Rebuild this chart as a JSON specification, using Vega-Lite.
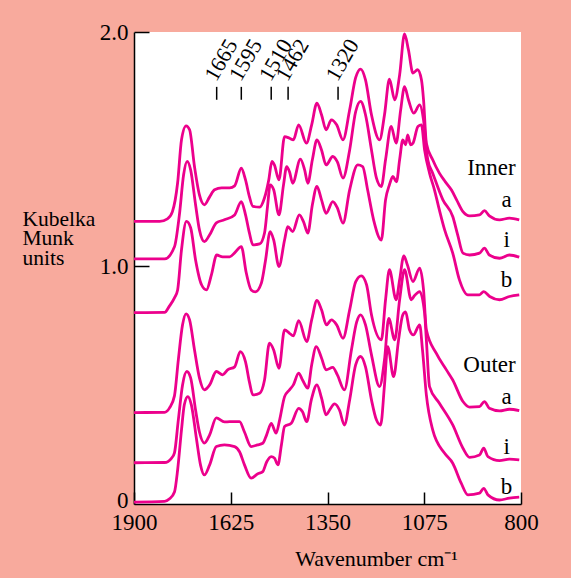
{
  "$schema": "https://vega.github.io/schema/vega-lite/v6.json",
  "autosize": "none",
  "width": 387,
  "height": 472,
  "padding": {"left": 134, "top": 32, "right": 50, "bottom": 74},
  "background": "#F8AA9D",
  "config": {
    "font": "Liberation Serif",
    "view": {"stroke": null, "fill": "white"}
  },
  "datasets": {
    "spectra": [
      {"s":"Ia","wn":1900,"ku":1.192},{"s":"Ia","wn":1827,"ku":1.192},{"s":"Ia","wn":1805,"ku":1.203},{"s":"Ia","wn":1791,"ku":1.233},{"s":"Ia","wn":1776,"ku":1.357},{"s":"Ia","wn":1765,"ku":1.540},{"s":"Ia","wn":1752,"ku":1.600},{"s":"Ia","wn":1742,"ku":1.583},{"s":"Ia","wn":1728,"ku":1.425},{"s":"Ia","wn":1714,"ku":1.305},{"s":"Ia","wn":1700,"ku":1.263},{"s":"Ia","wn":1685,"ku":1.297},{"s":"Ia","wn":1671,"ku":1.327},{"s":"Ia","wn":1651,"ku":1.335},{"s":"Ia","wn":1628,"ku":1.335},{"s":"Ia","wn":1614,"ku":1.344},{"s":"Ia","wn":1595,"ku":1.419},{"s":"Ia","wn":1583,"ku":1.369},{"s":"Ia","wn":1572,"ku":1.298},{"s":"Ia","wn":1562,"ku":1.256},{"s":"Ia","wn":1543,"ku":1.253},{"s":"Ia","wn":1529,"ku":1.293},{"s":"Ia","wn":1517,"ku":1.369},{"s":"Ia","wn":1508,"ku":1.448},{"s":"Ia","wn":1501,"ku":1.433},{"s":"Ia","wn":1488,"ku":1.369},{"s":"Ia","wn":1472,"ku":1.554},{"s":"Ia","wn":1458,"ku":1.547},{"s":"Ia","wn":1447,"ku":1.540},{"s":"Ia","wn":1432,"ku":1.604},{"s":"Ia","wn":1410,"ku":1.526},{"s":"Ia","wn":1395,"ku":1.604},{"s":"Ia","wn":1380,"ku":1.697},{"s":"Ia","wn":1367,"ku":1.647},{"s":"Ia","wn":1354,"ku":1.583},{"s":"Ia","wn":1339,"ku":1.625},{"s":"Ia","wn":1324,"ku":1.604},{"s":"Ia","wn":1306,"ku":1.540},{"s":"Ia","wn":1287,"ku":1.668},{"s":"Ia","wn":1270,"ku":1.805},{"s":"Ia","wn":1256,"ku":1.842},{"s":"Ia","wn":1242,"ku":1.796},{"s":"Ia","wn":1225,"ku":1.647},{"s":"Ia","wn":1202,"ku":1.540},{"s":"Ia","wn":1188,"ku":1.647},{"s":"Ia","wn":1174,"ku":1.799},{"s":"Ia","wn":1159,"ku":1.711},{"s":"Ia","wn":1145,"ku":1.817},{"s":"Ia","wn":1131,"ku":1.992},{"s":"Ia","wn":1120,"ku":1.924},{"s":"Ia","wn":1107,"ku":1.825},{"s":"Ia","wn":1094,"ku":1.839},{"s":"Ia","wn":1083,"ku":1.796},{"s":"Ia","wn":1077,"ku":1.711},{"s":"Ia","wn":1069,"ku":1.526},{"s":"Ia","wn":1051,"ku":1.455},{"s":"Ia","wn":1032,"ku":1.398},{"s":"Ia","wn":1015,"ku":1.361},{"s":"Ia","wn":998,"ku":1.327},{"s":"Ia","wn":983,"ku":1.284},{"s":"Ia","wn":965,"ku":1.234},{"s":"Ia","wn":946,"ku":1.216},{"s":"Ia","wn":918,"ku":1.220},{"s":"Ia","wn":904,"ku":1.238},{"s":"Ia","wn":890,"ku":1.216},{"s":"Ia","wn":861,"ku":1.199},{"s":"Ia","wn":833,"ku":1.206},{"s":"Ia","wn":805,"ku":1.199},

      {"s":"Ii","wn":1900,"ku":1.032},{"s":"Ii","wn":1813,"ku":1.032},{"s":"Ii","wn":1785,"ku":1.084},{"s":"Ii","wn":1771,"ku":1.220},{"s":"Ii","wn":1759,"ku":1.391},{"s":"Ii","wn":1749,"ku":1.448},{"s":"Ii","wn":1739,"ku":1.412},{"s":"Ii","wn":1725,"ku":1.263},{"s":"Ii","wn":1714,"ku":1.156},{"s":"Ii","wn":1700,"ku":1.106},{"s":"Ii","wn":1685,"ku":1.135},{"s":"Ii","wn":1666,"ku":1.186},{"s":"Ii","wn":1643,"ku":1.199},{"s":"Ii","wn":1614,"ku":1.220},{"s":"Ii","wn":1595,"ku":1.277},{"s":"Ii","wn":1583,"ku":1.220},{"s":"Ii","wn":1572,"ku":1.143},{"s":"Ii","wn":1562,"ku":1.092},{"s":"Ii","wn":1543,"ku":1.096},{"s":"Ii","wn":1529,"ku":1.143},{"s":"Ii","wn":1520,"ku":1.263},{"s":"Ii","wn":1513,"ku":1.348},{"s":"Ii","wn":1503,"ku":1.327},{"s":"Ii","wn":1488,"ku":1.220},{"s":"Ii","wn":1475,"ku":1.348},{"s":"Ii","wn":1466,"ku":1.426},{"s":"Ii","wn":1458,"ku":1.404},{"s":"Ii","wn":1449,"ku":1.355},{"s":"Ii","wn":1427,"ku":1.458},{"s":"Ii","wn":1415,"ku":1.412},{"s":"Ii","wn":1406,"ku":1.355},{"s":"Ii","wn":1393,"ku":1.455},{"s":"Ii","wn":1380,"ku":1.540},{"s":"Ii","wn":1367,"ku":1.497},{"s":"Ii","wn":1354,"ku":1.433},{"s":"Ii","wn":1335,"ku":1.469},{"s":"Ii","wn":1322,"ku":1.446},{"s":"Ii","wn":1306,"ku":1.377},{"s":"Ii","wn":1287,"ku":1.497},{"s":"Ii","wn":1270,"ku":1.660},{"s":"Ii","wn":1256,"ku":1.704},{"s":"Ii","wn":1242,"ku":1.647},{"s":"Ii","wn":1225,"ku":1.497},{"s":"Ii","wn":1211,"ku":1.378},{"s":"Ii","wn":1197,"ku":1.341},{"s":"Ii","wn":1185,"ku":1.455},{"s":"Ii","wn":1169,"ku":1.597},{"s":"Ii","wn":1155,"ku":1.526},{"s":"Ii","wn":1142,"ku":1.668},{"s":"Ii","wn":1131,"ku":1.767},{"s":"Ii","wn":1120,"ku":1.711},{"s":"Ii","wn":1105,"ku":1.654},{"s":"Ii","wn":1088,"ku":1.689},{"s":"Ii","wn":1077,"ku":1.625},{"s":"Ii","wn":1065,"ku":1.455},{"s":"Ii","wn":1051,"ku":1.398},{"s":"Ii","wn":1022,"ku":1.284},{"s":"Ii","wn":994,"ku":1.213},{"s":"Ii","wn":980,"ku":1.135},{"s":"Ii","wn":965,"ku":1.057},{"s":"Ii","wn":946,"ku":1.049},{"s":"Ii","wn":918,"ku":1.057},{"s":"Ii","wn":904,"ku":1.078},{"s":"Ii","wn":890,"ku":1.049},{"s":"Ii","wn":861,"ku":1.035},{"s":"Ii","wn":833,"ku":1.049},{"s":"Ii","wn":805,"ku":1.040},

      {"s":"Ib","wn":1900,"ku":0.803},{"s":"Ib","wn":1813,"ku":0.804},{"s":"Ib","wn":1799,"ku":0.832},{"s":"Ib","wn":1785,"ku":0.866},{"s":"Ib","wn":1776,"ku":0.900},{"s":"Ib","wn":1765,"ku":1.071},{"s":"Ib","wn":1751,"ku":1.192},{"s":"Ib","wn":1739,"ku":1.165},{"s":"Ib","wn":1725,"ku":1.028},{"s":"Ib","wn":1708,"ku":0.922},{"s":"Ib","wn":1694,"ku":0.900},{"s":"Ib","wn":1680,"ku":0.964},{"s":"Ib","wn":1665,"ku":1.049},{"s":"Ib","wn":1648,"ku":1.041},{"s":"Ib","wn":1628,"ku":1.041},{"s":"Ib","wn":1614,"ku":1.058},{"s":"Ib","wn":1595,"ku":1.085},{"s":"Ib","wn":1581,"ku":0.973},{"s":"Ib","wn":1567,"ku":0.900},{"s":"Ib","wn":1555,"ku":0.892},{"s":"Ib","wn":1538,"ku":0.929},{"s":"Ib","wn":1526,"ku":1.028},{"s":"Ib","wn":1513,"ku":1.149},{"s":"Ib","wn":1503,"ku":1.113},{"s":"Ib","wn":1488,"ku":1.000},{"s":"Ib","wn":1472,"ku":1.113},{"s":"Ib","wn":1463,"ku":1.170},{"s":"Ib","wn":1449,"ku":1.149},{"s":"Ib","wn":1430,"ku":1.220},{"s":"Ib","wn":1418,"ku":1.190},{"s":"Ib","wn":1406,"ku":1.142},{"s":"Ib","wn":1393,"ku":1.263},{"s":"Ib","wn":1380,"ku":1.341},{"s":"Ib","wn":1367,"ku":1.284},{"s":"Ib","wn":1354,"ku":1.227},{"s":"Ib","wn":1335,"ku":1.277},{"s":"Ib","wn":1322,"ku":1.250},{"s":"Ib","wn":1306,"ku":1.185},{"s":"Ib","wn":1287,"ku":1.327},{"s":"Ib","wn":1264,"ku":1.433},{"s":"Ib","wn":1250,"ku":1.426},{"s":"Ib","wn":1236,"ku":1.327},{"s":"Ib","wn":1219,"ku":1.199},{"s":"Ib","wn":1197,"ku":1.113},{"s":"Ib","wn":1185,"ku":1.284},{"s":"Ib","wn":1174,"ku":1.348},{"s":"Ib","wn":1164,"ku":1.384},{"s":"Ib","wn":1154,"ku":1.361},{"s":"Ib","wn":1145,"ku":1.455},{"s":"Ib","wn":1136,"ku":1.540},{"s":"Ib","wn":1128,"ku":1.519},{"s":"Ib","wn":1122,"ku":1.561},{"s":"Ib","wn":1114,"ku":1.519},{"s":"Ib","wn":1107,"ku":1.526},{"s":"Ib","wn":1093,"ku":1.597},{"s":"Ib","wn":1083,"ku":1.604},{"s":"Ib","wn":1074,"ku":1.497},{"s":"Ib","wn":1060,"ku":1.398},{"s":"Ib","wn":1046,"ku":1.327},{"s":"Ib","wn":1032,"ku":1.241},{"s":"Ib","wn":1017,"ku":1.156},{"s":"Ib","wn":994,"ku":1.057},{"s":"Ib","wn":975,"ku":0.943},{"s":"Ib","wn":951,"ku":0.879},{"s":"Ib","wn":918,"ku":0.879},{"s":"Ib","wn":906,"ku":0.893},{"s":"Ib","wn":889,"ku":0.872},{"s":"Ib","wn":861,"ku":0.858},{"s":"Ib","wn":833,"ku":0.872},{"s":"Ib","wn":805,"ku":0.879},

      {"s":"Oa","wn":1900,"ku":0.377},{"s":"Oa","wn":1813,"ku":0.378},{"s":"Oa","wn":1799,"ku":0.397},{"s":"Oa","wn":1785,"ku":0.448},{"s":"Oa","wn":1774,"ku":0.602},{"s":"Oa","wn":1762,"ku":0.751},{"s":"Oa","wn":1752,"ku":0.798},{"s":"Oa","wn":1742,"ku":0.772},{"s":"Oa","wn":1728,"ku":0.644},{"s":"Oa","wn":1714,"ku":0.525},{"s":"Oa","wn":1700,"ku":0.474},{"s":"Oa","wn":1685,"ku":0.495},{"s":"Oa","wn":1666,"ku":0.552},{"s":"Oa","wn":1648,"ku":0.538},{"s":"Oa","wn":1634,"ku":0.559},{"s":"Oa","wn":1614,"ku":0.572},{"s":"Oa","wn":1598,"ku":0.637},{"s":"Oa","wn":1583,"ku":0.593},{"s":"Oa","wn":1572,"ku":0.508},{"s":"Oa","wn":1562,"ku":0.452},{"s":"Oa","wn":1543,"ku":0.459},{"s":"Oa","wn":1529,"ku":0.516},{"s":"Oa","wn":1515,"ku":0.673},{"s":"Oa","wn":1503,"ku":0.644},{"s":"Oa","wn":1488,"ku":0.566},{"s":"Oa","wn":1472,"ku":0.730},{"s":"Oa","wn":1458,"ku":0.715},{"s":"Oa","wn":1447,"ku":0.704},{"s":"Oa","wn":1432,"ku":0.769},{"s":"Oa","wn":1409,"ku":0.680},{"s":"Oa","wn":1395,"ku":0.772},{"s":"Oa","wn":1380,"ku":0.855},{"s":"Oa","wn":1367,"ku":0.815},{"s":"Oa","wn":1353,"ku":0.751},{"s":"Oa","wn":1339,"ku":0.772},{"s":"Oa","wn":1324,"ku":0.751},{"s":"Oa","wn":1306,"ku":0.694},{"s":"Oa","wn":1287,"ku":0.815},{"s":"Oa","wn":1270,"ku":0.934},{"s":"Oa","wn":1254,"ku":0.960},{"s":"Oa","wn":1239,"ku":0.922},{"s":"Oa","wn":1225,"ku":0.794},{"s":"Oa","wn":1197,"ku":0.687},{"s":"Oa","wn":1185,"ku":0.858},{"s":"Oa","wn":1174,"ku":0.986},{"s":"Oa","wn":1155,"ku":0.858},{"s":"Oa","wn":1145,"ku":0.943},{"s":"Oa","wn":1133,"ku":1.045},{"s":"Oa","wn":1123,"ku":1.007},{"s":"Oa","wn":1107,"ku":0.936},{"s":"Oa","wn":1088,"ku":0.993},{"s":"Oa","wn":1077,"ku":0.900},{"s":"Oa","wn":1069,"ku":0.730},{"s":"Oa","wn":1041,"ku":0.630},{"s":"Oa","wn":1012,"ku":0.559},{"s":"Oa","wn":994,"ku":0.516},{"s":"Oa","wn":965,"ku":0.424},{"s":"Oa","wn":946,"ku":0.400},{"s":"Oa","wn":918,"ku":0.402},{"s":"Oa","wn":904,"ku":0.424},{"s":"Oa","wn":890,"ku":0.395},{"s":"Oa","wn":861,"ku":0.384},{"s":"Oa","wn":833,"ku":0.391},{"s":"Oa","wn":805,"ku":0.385},

      {"s":"Oi","wn":1900,"ku":0.163},{"s":"Oi","wn":1813,"ku":0.164},{"s":"Oi","wn":1793,"ku":0.183},{"s":"Oi","wn":1785,"ku":0.205},{"s":"Oi","wn":1774,"ku":0.346},{"s":"Oi","wn":1762,"ku":0.495},{"s":"Oi","wn":1750,"ku":0.552},{"s":"Oi","wn":1739,"ku":0.525},{"s":"Oi","wn":1725,"ku":0.388},{"s":"Oi","wn":1714,"ku":0.294},{"s":"Oi","wn":1700,"ku":0.247},{"s":"Oi","wn":1685,"ku":0.282},{"s":"Oi","wn":1666,"ku":0.354},{"s":"Oi","wn":1643,"ku":0.337},{"s":"Oi","wn":1628,"ku":0.338},{"s":"Oi","wn":1600,"ku":0.338},{"s":"Oi","wn":1586,"ku":0.294},{"s":"Oi","wn":1567,"ku":0.232},{"s":"Oi","wn":1549,"ku":0.239},{"s":"Oi","wn":1534,"ku":0.246},{"s":"Oi","wn":1523,"ku":0.282},{"s":"Oi","wn":1510,"ku":0.331},{"s":"Oi","wn":1496,"ku":0.289},{"s":"Oi","wn":1486,"ku":0.346},{"s":"Oi","wn":1472,"ku":0.445},{"s":"Oi","wn":1458,"ku":0.474},{"s":"Oi","wn":1447,"ku":0.495},{"s":"Oi","wn":1432,"ku":0.545},{"s":"Oi","wn":1421,"ku":0.516},{"s":"Oi","wn":1406,"ku":0.481},{"s":"Oi","wn":1395,"ku":0.580},{"s":"Oi","wn":1382,"ku":0.658},{"s":"Oi","wn":1367,"ku":0.610},{"s":"Oi","wn":1354,"ku":0.559},{"s":"Oi","wn":1335,"ku":0.570},{"s":"Oi","wn":1322,"ku":0.538},{"s":"Oi","wn":1302,"ku":0.474},{"s":"Oi","wn":1282,"ku":0.644},{"s":"Oi","wn":1267,"ku":0.764},{"s":"Oi","wn":1256,"ku":0.794},{"s":"Oi","wn":1242,"ku":0.751},{"s":"Oi","wn":1225,"ku":0.623},{"s":"Oi","wn":1202,"ku":0.488},{"s":"Oi","wn":1188,"ku":0.602},{"s":"Oi","wn":1176,"ku":0.779},{"s":"Oi","wn":1159,"ku":0.687},{"s":"Oi","wn":1145,"ku":0.858},{"s":"Oi","wn":1131,"ku":0.986},{"s":"Oi","wn":1112,"ku":0.858},{"s":"Oi","wn":1103,"ku":0.875},{"s":"Oi","wn":1088,"ku":0.893},{"s":"Oi","wn":1074,"ku":0.801},{"s":"Oi","wn":1069,"ku":0.687},{"s":"Oi","wn":1060,"ku":0.488},{"s":"Oi","wn":1032,"ku":0.417},{"s":"Oi","wn":994,"ku":0.324},{"s":"Oi","wn":965,"ku":0.225},{"s":"Oi","wn":946,"ku":0.186},{"s":"Oi","wn":918,"ku":0.196},{"s":"Oi","wn":906,"ku":0.225},{"s":"Oi","wn":894,"ku":0.189},{"s":"Oi","wn":861,"ku":0.172},{"s":"Oi","wn":833,"ku":0.178},{"s":"Oi","wn":805,"ku":0.175},

      {"s":"Ob","wn":1900,"ku":-0.005},{"s":"Ob","wn":1813,"ku":-0.002},{"s":"Ob","wn":1799,"ku":0.009},{"s":"Ob","wn":1785,"ku":0.038},{"s":"Ob","wn":1776,"ku":0.132},{"s":"Ob","wn":1765,"ku":0.303},{"s":"Ob","wn":1757,"ku":0.410},{"s":"Ob","wn":1747,"ku":0.445},{"s":"Ob","wn":1737,"ku":0.410},{"s":"Ob","wn":1722,"ku":0.260},{"s":"Ob","wn":1711,"ku":0.154},{"s":"Ob","wn":1700,"ku":0.111},{"s":"Ob","wn":1685,"ku":0.154},{"s":"Ob","wn":1666,"ku":0.232},{"s":"Ob","wn":1643,"ku":0.239},{"s":"Ob","wn":1614,"ku":0.232},{"s":"Ob","wn":1600,"ku":0.210},{"s":"Ob","wn":1586,"ku":0.154},{"s":"Ob","wn":1567,"ku":0.097},{"s":"Ob","wn":1549,"ku":0.115},{"s":"Ob","wn":1534,"ku":0.125},{"s":"Ob","wn":1523,"ku":0.166},{"s":"Ob","wn":1510,"ku":0.189},{"s":"Ob","wn":1501,"ku":0.183},{"s":"Ob","wn":1491,"ku":0.154},{"s":"Ob","wn":1481,"ku":0.239},{"s":"Ob","wn":1472,"ku":0.317},{"s":"Ob","wn":1453,"ku":0.331},{"s":"Ob","wn":1432,"ku":0.395},{"s":"Ob","wn":1421,"ku":0.380},{"s":"Ob","wn":1409,"ku":0.338},{"s":"Ob","wn":1396,"ku":0.431},{"s":"Ob","wn":1380,"ku":0.495},{"s":"Ob","wn":1367,"ku":0.439},{"s":"Ob","wn":1354,"ku":0.367},{"s":"Ob","wn":1344,"ku":0.388},{"s":"Ob","wn":1330,"ku":0.414},{"s":"Ob","wn":1316,"ku":0.388},{"s":"Ob","wn":1302,"ku":0.324},{"s":"Ob","wn":1287,"ku":0.431},{"s":"Ob","wn":1270,"ku":0.580},{"s":"Ob","wn":1256,"ku":0.616},{"s":"Ob","wn":1242,"ku":0.572},{"s":"Ob","wn":1225,"ku":0.431},{"s":"Ob","wn":1211,"ku":0.346},{"s":"Ob","wn":1199,"ku":0.324},{"s":"Ob","wn":1188,"ku":0.495},{"s":"Ob","wn":1179,"ku":0.658},{"s":"Ob","wn":1162,"ku":0.530},{"s":"Ob","wn":1148,"ku":0.687},{"s":"Ob","wn":1136,"ku":0.794},{"s":"Ob","wn":1128,"ku":0.806},{"s":"Ob","wn":1117,"ku":0.730},{"s":"Ob","wn":1106,"ku":0.708},{"s":"Ob","wn":1088,"ku":0.751},{"s":"Ob","wn":1080,"ku":0.644},{"s":"Ob","wn":1069,"ku":0.452},{"s":"Ob","wn":1051,"ku":0.303},{"s":"Ob","wn":1017,"ku":0.203},{"s":"Ob","wn":994,"ku":0.161},{"s":"Ob","wn":970,"ku":0.076},{"s":"Ob","wn":951,"ku":0.026},{"s":"Ob","wn":918,"ku":0.033},{"s":"Ob","wn":906,"ku":0.054},{"s":"Ob","wn":894,"ku":0.026},{"s":"Ob","wn":861,"ku":0.004},{"s":"Ob","wn":833,"ku":0.012},{"s":"Ob","wn":805,"ku":0.016}
    ],
    "bands": [
      {"wn": 1665, "t": "1665"},
      {"wn": 1595, "t": "1595"},
      {"wn": 1510, "t": "1510"},
      {"wn": 1462, "t": "1462"},
      {"wn": 1320, "t": "1320"}
    ],
    "groups": [
      {"t": "Inner", "ku": 1.421},
      {"t": "Outer", "ku": 0.580}
    ],
    "samples": [
      {"t": "a", "ku": 1.284},
      {"t": "i", "ku": 1.113},
      {"t": "b", "ku": 0.943},
      {"t": "a", "ku": 0.445},
      {"t": "i", "ku": 0.232},
      {"t": "b", "ku": 0.061}
    ]
  },
  "layer": [
    {
      "data": {"name": "spectra"},
      "mark": {"type": "line", "interpolate": "monotone", "color": "#EC008C", "strokeWidth": 2.8, "clip": true},
      "encoding": {
        "x": {
          "field": "wn", "type": "quantitative",
          "scale": {"domain": [800, 1900], "reverse": true, "nice": false, "zero": false},
          "axis": {
            "title": "Wavenumber cm⁻¹",
            "values": [1900, 1625, 1350, 1075, 800],
            "format": "d",
            "grid": false,
            "domainColor": "black", "domainWidth": 1.5,
            "tickColor": "black", "tickWidth": 1.5, "tickSize": -12,
            "labelPadding": 19,
            "labelFontSize": 23, "labelColor": "black", "labelFont": "Liberation Serif",
            "labelFlush": false, "labelOverlap": false,
            "titleFont": "Liberation Serif", "titleFontSize": 22, "titleFontWeight": "normal", "titleColor": "black",
            "titleX": 242, "titleY": 61, "titleAlign": "center", "titleBaseline": "alphabetic", "titleAnchor": null
          }
        },
        "y": {
          "field": "ku", "type": "quantitative",
          "scale": {"domain": [-0.013, 2], "nice": false, "zero": false},
          "axis": {
            "title": ["Kubelka", "Munk", "units"],
            "values": [0, 1, 2],
            "labelExpr": "datum.value == 0 ? '0' : format(datum.value, '.1f')",
            "grid": false,
            "domainColor": "black", "domainWidth": 1.5,
            "tickColor": "black", "tickWidth": 1.5, "tickSize": -15,
            "tickOpacity": {"condition": {"test": "datum.value == 0", "value": 0}, "value": 1},
            "labelPadding": 21,
            "labelFontSize": 23, "labelColor": "black", "labelFont": "Liberation Serif",
            "labelFlush": false, "labelOverlap": false,
            "titleFont": "Liberation Serif", "titleFontSize": 21.5, "titleFontWeight": "normal", "titleColor": "black",
            "titleAngle": 0, "titleAlign": "left", "titleBaseline": "alphabetic",
            "titleX": -112, "titleY": 193, "titleLineHeight": 19.5, "titleAnchor": null
          }
        },
        "detail": {"field": "s", "type": "nominal"}
      }
    },
    {
      "data": {"name": "bands"},
      "mark": {"type": "rule", "color": "black", "strokeWidth": 1.5},
      "encoding": {
        "x": {"field": "wn", "type": "quantitative"},
        "y": {"datum": 1.711},
        "y2": {"datum": 1.766}
      }
    },
    {
      "data": {"name": "bands"},
      "mark": {"type": "text", "angle": -60, "align": "left", "baseline": "alphabetic", "font": "Liberation Serif", "fontSize": 22, "color": "black", "dx": -1},
      "encoding": {
        "x": {"field": "wn", "type": "quantitative"},
        "y": {"datum": 1.788},
        "text": {"field": "t"}
      }
    },
    {
      "data": {"name": "groups"},
      "mark": {"type": "text", "align": "right", "baseline": "middle", "font": "Liberation Serif", "fontSize": 23, "color": "black"},
      "encoding": {
        "x": {"datum": 815},
        "y": {"field": "ku", "type": "quantitative"},
        "text": {"field": "t"}
      }
    },
    {
      "data": {"name": "samples"},
      "mark": {"type": "text", "align": "center", "baseline": "middle", "font": "Liberation Serif", "fontSize": 23, "color": "black"},
      "encoding": {
        "x": {"datum": 841},
        "y": {"field": "ku", "type": "quantitative"},
        "text": {"field": "t"}
      }
    }
  ]
}
